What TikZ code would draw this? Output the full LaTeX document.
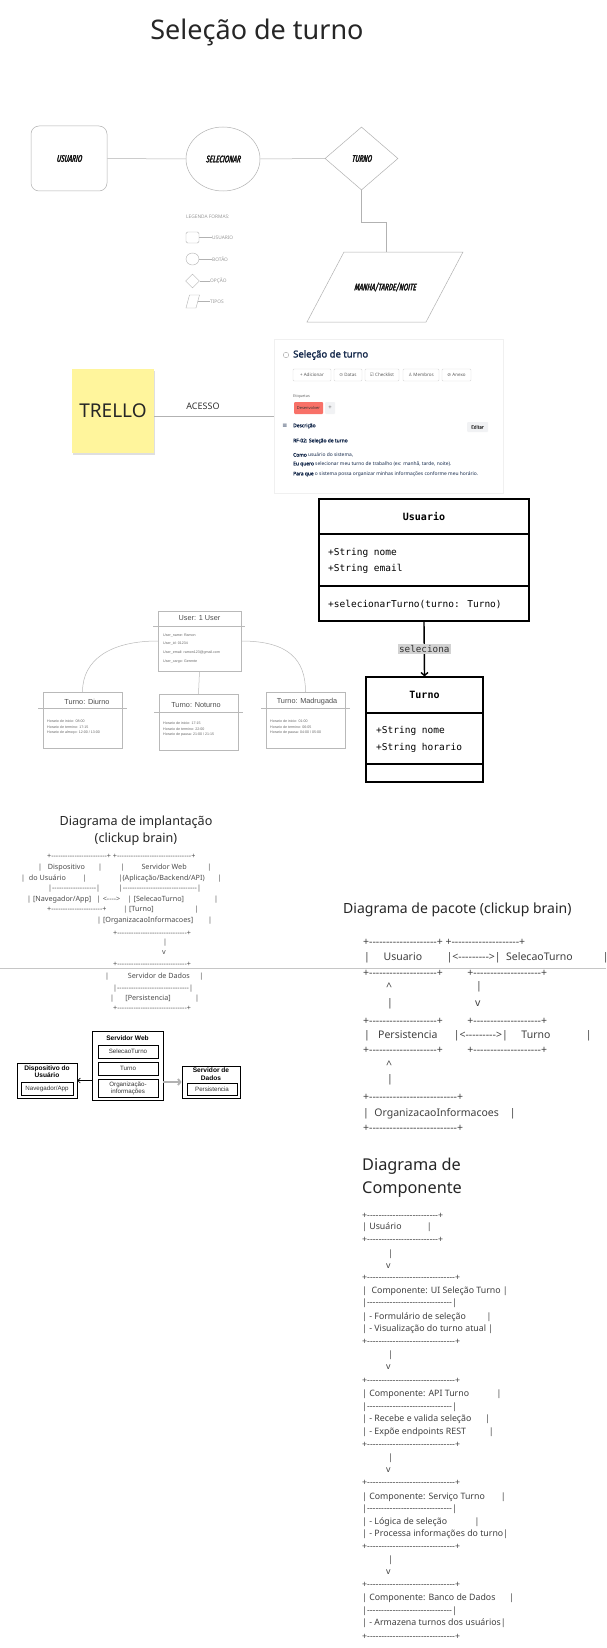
\documentclass[tikz,border=0pt]{standalone}
\usepackage{fontspec}
\setmainfont{Noto Sans}[BoldFont={Noto Sans}, BoldFeatures={FakeBold=2}]
\newfontfamily\asciifont[Ligatures=TeXOff]{Noto Sans}
\newfontfamily\handfont[FakeStretch=0.66, FakeSlant=0.22, FakeBold=3]{Fira Sans}
\newfontfamily\umlfont{DejaVu Sans Mono}
\newfontfamily\arialfont{Liberation Sans}
\newfontfamily\symfont{DejaVu Sans}
\usetikzlibrary{shapes.geometric,arrows.meta,shadows,positioning}

\definecolor{sticky}{HTML}{FFF59C}
\definecolor{trelloink}{HTML}{172B4D}
\definecolor{trellored}{HTML}{F87168}
\definecolor{btngray}{HTML}{F1F2F4}

\tikzset{
  flow/.style={draw=gray!60, line width=0.5pt, inner sep=0pt, text=black!90,
    font=\handfont\fontsize{9.5}{11}\selectfont},
  flowline/.style={draw=gray!60, line width=0.5pt},
  legshape/.style={draw=gray!60, line width=0.4pt, inner sep=0pt},
  legtext/.style={anchor=west, inner sep=0pt, text=gray!80, font=\fontsize{4.8}{6}\selectfont},
  cardtext/.style={anchor=west, inner sep=0pt, text=trelloink, font=\fontsize{4.9}{6}\selectfont},
  btn/.style={draw=gray!30, line width=0.4pt, rounded corners=1pt, inner sep=0pt,
    minimum height=12pt, text=black!65, font=\fontsize{4.5}{5}\selectfont},
  umlbox/.style={draw=black, line width=1.2pt, fill=white, inner sep=0pt,
    drop shadow={opacity=0.15, shadow xshift=1pt, shadow yshift=-1.2pt}},
  umlline/.style={draw=black, line width=1.2pt},
  umlhead/.style={inner sep=0pt, font=\umlfont\bfseries\fontsize{10}{12}\selectfont},
  umltext/.style={anchor=west, inner sep=0pt, font=\umlfont\fontsize{9.5}{11}\selectfont},
  objbox/.style={draw=gray!55, line width=0.5pt, inner sep=0pt},
  objline/.style={draw=gray!55, line width=0.5pt},
  objhead/.style={inner sep=0pt, text=black!70, font=\arialfont\fontsize{7.3}{9}\selectfont},
  objtext/.style={anchor=west, inner sep=0pt, text=black!60, font=\arialfont\fontsize{3.6}{4}\selectfont},
  asc/.style={anchor=west, inner sep=0pt, text=black!70, font=\asciifont\fontsize{7.2}{9}\selectfont},
  pkg/.style={asc, text=black!75, font=\asciifont\fontsize{10.5}{12}\selectfont},
  comp/.style={asc, text=black!75, font=\asciifont\fontsize{8.8}{10}\selectfont},
  dbox/.style={draw=black, line width=0.8pt, inner sep=0pt},
  dinner/.style={draw=black, line width=0.6pt, inner sep=0pt, text=black!80,
    font=\arialfont\fontsize{6.2}{7.2}\selectfont},
  dtitle/.style={inner sep=0pt, align=center, font=\arialfont\bfseries\fontsize{6.6}{7.6}\selectfont},
  bigtitle/.style={inner sep=0pt, text=black!85}
}

\begin{document}
\begin{tikzpicture}[x=1pt,y=-1pt]
\fill[white] (0,0) rectangle (606,1648);
\useasboundingbox (0,0) rectangle (606,1648);

\node[bigtitle, font=\fontsize{27}{32}\selectfont] (title) at (257,32) {Seleção de turno};

% fluxo
\node[flow, rectangle, rounded corners=8pt, minimum width=76pt, minimum height=65pt] (usuario) at (69,158.5) {USUARIO};
\node[flow, ellipse, minimum width=74pt, minimum height=64pt] (selecionar) at (223,159) {SELECIONAR};
\node[flow, diamond, minimum width=73pt, minimum height=63pt] (turno) at (361.5,158.5) {TURNO};
\draw[flowline] (usuario) -- (selecionar);
\draw[flowline] (selecionar) -- (turno);
\draw[flowline] (344,252) -- (463,252) -- (426,322) -- (307,322) -- cycle;
\node[flow, draw=none] (periodo) at (385,287) {MANHA/TARDE/NOITE};
\coordinate (periodoTop) at (386,252);
\draw[flowline] (turno.south) -- ++(0,32) -| (periodoTop);

% legenda
\node[legtext] (legtitle) at (186,217) {LEGENDA FORMAS:};
\node[legshape, rectangle, rounded corners=1.5pt, minimum width=13pt, minimum height=11pt] (legrect) at (192.5,237.5) {};
\node[legtext] (legusuario) at (212,237.5) {USUARIO};
\draw[flowline, line width=0.4pt] (legrect) -- (legusuario);
\node[legshape, ellipse, minimum width=13pt, minimum height=12pt] (legcirc) at (192.5,259) {};
\node[legtext] (legbotao) at (212,259) {BOTÃO};
\draw[flowline, line width=0.4pt] (legcirc) -- (legbotao);
\node[legshape, diamond, minimum width=14pt, minimum height=14pt] (legdiam) at (192.5,281) {};
\node[legtext] (legopcao) at (210,281) {OPÇÃO};
\draw[flowline, line width=0.4pt] (legdiam) -- (legopcao);
\draw[legshape] (189.5,295) -- (199.5,295) -- (196,308) -- (186,308) -- cycle;
\coordinate (legpar) at (198,301.5);
\node[legtext] (legtipos) at (210,301.5) {TIPOS};
\draw[flowline, line width=0.4pt] (legpar) -- (legtipos);

% trello
\node[fill=sticky, minimum width=82pt, minimum height=84pt, inner sep=0pt,
  drop shadow={opacity=0.25, shadow xshift=1pt, shadow yshift=-2pt},
  font=\fontsize{19}{22}\selectfont, text=black!85] (trello) at (113,411) {TRELLO};
\node[draw=gray!12, fill=white, minimum width=229pt, minimum height=154pt, inner sep=0pt] (card) at (388.5,416) {};
\draw[flowline] (trello.east |- card.west) -- (card.west);
\node[inner sep=0pt, text=black!80, font=\fontsize{9}{11}\selectfont] (acesso) at (203,406) {ACESSO};
\node[draw=gray!70, circle, line width=0.4pt, inner sep=0pt, minimum size=5.5pt] (cardicon) at (286,355) {};
\node[anchor=west, inner sep=0pt, text=trelloink, font=\bfseries\fontsize{9.5}{11}\selectfont] (cardtitle) at (293,355) {Seleção de turno};
\node[btn, minimum width=38pt] (badd) at (312,375) {+ Adicionar};
\node[btn, minimum width=28pt] (bdatas) at (348,375) {{\symfont ⊙} Datas};
\node[btn, minimum width=34pt] (bcheck) at (382,375) {{\symfont ☑} Checklist};
\node[btn, minimum width=36pt] (bmembros) at (421,375) {{\symfont ♙} Membros};
\node[btn, minimum width=29pt] (banexo) at (456.5,375) {{\symfont ⊘} Anexo};
\node[anchor=west, inner sep=0pt, text=black!60, font=\fontsize{3.8}{5}\selectfont] (etiquetas) at (293,397) {Etiquetas};
\node[fill=trellored, rounded corners=1pt, minimum width=29pt, minimum height=12pt, inner sep=0pt,
  text=black!80, font=\fontsize{4}{5}\selectfont] (etiqred) at (308.5,408) {Desenvolver};
\node[fill=btngray, rounded corners=1pt, minimum width=10pt, minimum height=12pt, inner sep=0pt,
  text=black!60, font=\fontsize{6}{7}\selectfont] (etiqadd) at (330,408) {+};
\node[inner sep=0pt, text=trelloink, font=\symfont\fontsize{6}{7}\selectfont] (descicon) at (285,426) {≡};
\node[cardtext, font=\bfseries\fontsize{4.9}{6}\selectfont] (descricao) at (293,426) {Descrição};
\node[fill=btngray, rounded corners=1pt, minimum width=21pt, minimum height=10pt, inner sep=0pt,
  text=black!70, font=\bfseries\fontsize{4.5}{5}\selectfont] (editar) at (477.5,427) {Editar};
\node[cardtext, font=\bfseries\fontsize{4.9}{6}\selectfont] (rf) at (293,441) {RF-02: Seleção de turno};
\node[cardtext] (como) at (293,455) {\textbf{Como} usuário do sistema,};
\node[cardtext] (quero) at (293,464) {\textbf{Eu quero} selecionar meu turno de trabalho (ex: manhã, tarde, noite).};
\node[cardtext] (paraque) at (293,474) {\textbf{Para que} o sistema possa organizar minhas informações conforme meu horário.};

% classes
\node[umlbox, minimum width=210pt, minimum height=122pt] (clsUsuario) at (424,560) {};
\draw[umlline] (319,534) -- (529,534);
\draw[umlline] (319,586) -- (529,586);
\node[umlhead] (hUsuario) at (424,517) {Usuario};
\node[umltext] (aNome) at (328,553) {+String nome};
\node[umltext] (aEmail) at (328,569) {+String email};
\node[umltext] (mSelecionar) at (328,604) {+selecionarTurno(turno: Turno)};
\node[umlbox, minimum width=117pt, minimum height=105pt] (clsTurno) at (424.5,729.5) {};
\draw[umlline] (366,713) -- (483,713);
\draw[umlline] (366,764) -- (483,764);
\node[umlhead] (hTurno) at (424.5,695) {Turno};
\node[umltext] (tNome) at (376,731) {+String nome};
\node[umltext] (tHorario) at (376,748) {+String horario};
\draw[line width=1.4pt, -{Straight Barb[length=3pt,width=7pt]}] (clsUsuario.south) --
  node[fill=gray!35, inner sep=1.5pt, text=black!80, font=\umlfont\fontsize{9.3}{11}\selectfont] (seleciona) {seleciona} (clsTurno.north);

% objetos
\node[objbox, minimum width=83pt, minimum height=60pt] (user) at (199.5,641) {};
\draw[objline] (153,626) -- (245,626);
\node[objhead] (userhead) at (199.5,618) {User: 1 User};
\node[objtext] (uname) at (163,636) {User\_name: Ramon};
\node[objtext] (uid) at (163,644) {User\_id: 01234};
\node[objtext] (uemail) at (163,653) {User\_email: ramon123@gmail.com};
\node[objtext] (ucargo) at (163,662) {User\_cargo: Gerente};
\node[objbox, minimum width=79pt, minimum height=56pt] (diurno) at (82.5,720) {};
\draw[objline] (38,708) -- (127,708);
\node[objhead] (hdiurno) at (87,702) {Turno: Diurno};
\node[objtext] (d1) at (47,721) {Horario de inicio: 08:00};
\node[objtext] (d2) at (47,727) {Horario de termino: 17:15};
\node[objtext] (d3) at (47,733) {Horario de almoço: 12:00 / 13:00};
\node[objbox, minimum width=79pt, minimum height=56pt] (noturno) at (198.5,722) {};
\draw[objline] (154,712) -- (243,712);
\node[objhead] (hnoturno) at (196,705) {Turno: Noturno};
\node[objtext] (n1) at (163,723) {Horario de inicio: 17:15};
\node[objtext] (n2) at (163,729) {Horario de termino: 22:00};
\node[objtext] (n3) at (163,735) {Horario de pausa: 21:00 / 21:15};
\node[objbox, minimum width=79pt, minimum height=56pt] (madrugada) at (305.5,720) {};
\draw[objline] (261,708) -- (350,708);
\node[objhead] (hmadrugada) at (307,702) {Turno: Madrugada};
\node[objtext] (m1) at (270,721) {Horario de inicio: 01:00};
\node[objtext] (m2) at (270,727) {Horario de termino: 06:05};
\node[objtext] (m3) at (270,733) {Horario de pausa: 04:00 / 05:00};
\draw[objline] (user.west) .. controls (110,641) and (82.5,660) .. (diurno.north);
\draw[objline] (user.east) .. controls (289,641) and (305.5,660) .. (madrugada.north);
\draw[objline] (user.south) -- (noturno.north);

% implantacao (texto)
\node[bigtitle, align=center, font=\fontsize{12.6}{17}\selectfont] (deptitle) at (136,830.5) {Diagrama de implantação\\(clickup brain)};
\node[asc] (l1) at (47,856) {+------------------------+ +--------------------------------+};
\node[asc] (l2) at (38,868) {|~~~Dispositivo~~~~~~~|~~~~~~~~~~|~~~~~~~~~Servidor Web~~~~~~~~~~~|};
\node[asc] (l3) at (21,879) {|~~do Usuário~~~~~~~~~|~~~~~~~~~~~~~~~~~|(Aplicação/Backend/API)~~~~~~~|};
\node[asc] (l4) at (48,889) {|-------------------|~~~~~~~~~~|--------------------------------|};
\node[asc] (l5) at (27,900) {|~[Navegador/App]~~~|~<---->~~~~|~[SelecaoTurno]~~~~~~~~~~~~~~~~|};
\node[asc] (l6) at (47,910) {+----------------------+~~~~~~~~~|~[Turno]~~~~~~~~~~~~~~~~~~~~~~|};
\node[asc] (l7) at (97,921) {|~[OrganizacaoInformacoes]~~~~~~~~|};
\node[asc] (l8) at (113,933) {+------------------------------+};
\node[asc] (l9) at (163,943) {|};
\node[asc] (l10) at (162,953) {v};
\node[asc] (l11) at (113,964) {+------------------------------+};
\node[asc] (l12) at (105,977) {|~~~~~~~~~~Servidor de Dados~~~~~|};
\node[asc] (l13) at (113,989) {|-------------------------------|};
\node[asc] (l14) at (110,999) {|~~~~~~[Persistencia]~~~~~~~~~~~~~|};
\node[asc] (l15) at (113,1008) {+------------------------------+};

\draw[gray!45, line width=0.6pt] (0,968) -- (606,968);

% implantacao (caixas)
\node[dbox, minimum width=71pt, minimum height=69pt] (web) at (127.5,1065.5) {};
\node[dtitle] (webtitle) at (127.5,1038) {Servidor Web};
\node[dinner, minimum width=60pt, minimum height=13pt] (wsel) at (128,1051.5) {SelecaoTurno};
\node[dinner, minimum width=60pt, minimum height=13pt] (wturno) at (128,1068.5) {Turno};
\node[dinner, minimum width=60pt, minimum height=18pt, align=center] (worg) at (128,1088) {Organização-\\informações};
\node[dbox, minimum width=60pt, minimum height=35pt] (disp) at (47,1080.5) {};
\node[dtitle] (disptitle) at (47,1071.5) {Dispositivo do\\Usuário};
\node[dinner, minimum width=52pt, minimum height=13pt] (nav) at (47,1088.5) {Navegador/App};
\node[dbox, minimum width=58pt, minimum height=32pt] (dados) at (211,1082) {};
\node[dtitle] (dadostitle) at (211,1074) {Servidor de\\Dados};
\node[dinner, minimum width=50pt, minimum height=12pt] (persist) at (212,1089.5) {Persistencia};
\draw[line width=0.6pt, -{Straight Barb[length=2.5pt,width=5pt]}] (web.west |- disp.east) -- (disp.east);
\draw[gray!60, line width=1.8pt, -{Straight Barb[length=2.5pt,width=6pt]}] (web.east |- dados.west) -- (dados.west);

% pacote
\node[bigtitle, anchor=west, font=\fontsize{14}{17}\selectfont] (pkgtitle) at (343,910) {Diagrama de pacote (clickup brain)};
\node[pkg] (p1) at (363,942) {+--------------------+ +--------------------+};
\node[pkg] (p2) at (364,958) {|~~~~~Usuario~~~~~~~~~|<--------->|~~SelecaoTurno~~~~~~~~~~~|};
\node[pkg] (p3) at (363,973) {+--------------------+~~~~~~~~~+--------------------+};
\node[pkg] (p4a) at (386,987) {\textasciicircum};
\node[pkg] (p4b) at (476,987) {|};
\node[pkg] (p5a) at (387,1004) {|};
\node[pkg] (p5b) at (475,1004) {v};
\node[pkg] (p6) at (363,1021) {+--------------------+~~~~~~~~~+--------------------+};
\node[pkg] (p7) at (364,1036) {|~~~Persistencia~~~~~~|<--------->|~~~~~Turno~~~~~~~~~~~~~|};
\node[pkg] (p8) at (363,1050) {+--------------------+~~~~~~~~~+--------------------+};
\node[pkg] (p9) at (386,1065) {\textasciicircum};
\node[pkg] (p10) at (387,1080) {|};
\node[pkg] (p11) at (363,1097) {+--------------------------+};
\node[pkg] (p12) at (363,1114) {|~~OrganizacaoInformacoes~~~~|};
\node[pkg] (p13) at (363,1128) {+--------------------------+};

% componente
\node[bigtitle, anchor=west, align=left, font=\fontsize{16.3}{23}\selectfont] (comptitle) at (362,1177.5) {Diagrama de\\Componente};
\node[comp] (c1) at (362,1216) {+-------------------------+};
\node[comp] (c2) at (362,1227) {|~Usuário~~~~~~~~~~~|};
\node[comp] (c3) at (362,1240) {+-------------------------+};
\node[comp] (c6) at (362,1278) {+-------------------------------+};
\node[comp] (c7) at (362,1291) {|~~Componente: UI Seleção Turno~|};
\node[comp] (c8) at (362,1303) {|------------------------------|};
\node[comp] (c9) at (362,1317) {|~-~Formulário de seleção~~~~~~~~~|};
\node[comp] (c10) at (362,1329) {|~-~Visualização do turno atual~|};
\node[comp] (c11) at (362,1342) {+-------------------------------+};
\node[comp] (c14) at (362,1381) {+-------------------------------+};
\node[comp] (c15) at (362,1394) {|~Componente: API Turno~~~~~~~~~~~~|};
\node[comp] (c16) at (362,1407) {|------------------------------|};
\node[comp] (c17) at (362,1419) {|~-~Recebe e valida seleção~~~~~~|};
\node[comp] (c18) at (362,1432) {|~-~Expõe endpoints REST~~~~~~~~~~|};
\node[comp] (c19) at (362,1445) {+-------------------------------+};
\node[comp] (c22) at (362,1483) {+-------------------------------+};
\node[comp] (c23) at (362,1497) {|~Componente: Serviço Turno~~~~~~~|};
\node[comp] (c24) at (362,1509) {|------------------------------|};
\node[comp] (c25) at (362,1522) {|~-~Lógica de seleção~~~~~~~~~~~~|};
\node[comp] (c26) at (362,1534) {|~-~Processa informações do turno|};
\node[comp] (c27) at (362,1547) {+-------------------------------+};
\node[comp] (c30) at (362,1585) {+-------------------------------+};
\node[comp] (c31) at (362,1598) {|~Componente: Banco de Dados~~~~~~|};
\node[comp] (c32) at (362,1611) {|------------------------------|};
\node[comp] (c33) at (362,1623) {|~-~Armazena turnos dos usuários|};
\node[comp] (c34) at (362,1637) {+-------------------------------+};
\foreach \y in {1254,1355,1458,1560} {
  \node[comp] (cbar\y) at (388,\y) {|};
  \node[comp] (cv\y) at (386,\y+12) {v};
}
\end{tikzpicture}
\end{document}
